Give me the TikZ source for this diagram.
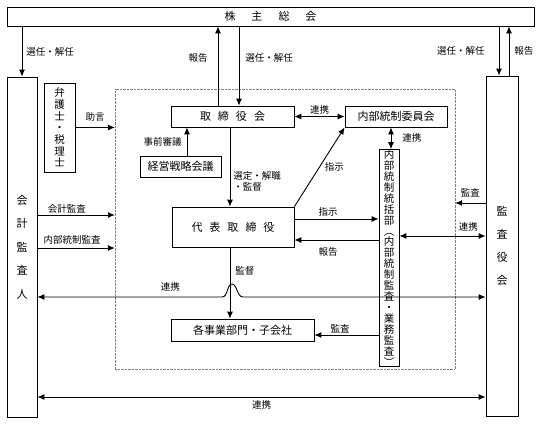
\documentclass[tikz,border=0pt]{standalone}
\usepackage{fontspec}
\setmainfont{Noto Sans CJK JP}
\usetikzlibrary{arrows.meta}

\begin{document}
\begin{tikzpicture}[x=1pt,y=-1pt,
	box/.style={draw, line width=.8pt, inner sep=0pt, font=\fontsize{11}{13}\selectfont},
	tate/.style 2 args={align=center, font=\fontsize{#1}{#2}\selectfont},
	lbl/.style={font=\fontsize{9.5}{11}\selectfont, inner sep=1pt},
	conn/.style={line width=.9pt, -{Latex[length=7pt,width=6pt]}},
	both/.style={line width=.9pt, {Latex[length=7pt,width=6pt]}-{Latex[length=7pt,width=6pt]}}]
	\useasboundingbox (0,0) rectangle (543,423);
	\node [box, minimum width=527, minimum height=19] (soukai) at (270.5,16.5) {株\hspace{16pt}主\hspace{16pt}総\hspace{16pt}会};
	\node [draw, densely dotted, gray, minimum width=340, minimum height=280] (waku) at (285,229) {};
	\node [box, tate={11}{23.5}, minimum width=30, minimum height=340] (kaikei) at (22,247) {会\\計\\監\\査\\人};
	\node [box, tate={11}{23}, minimum width=32, minimum height=340] (kansayaku) at (502,246) {監\\査\\役\\会};
	\node [box, tate={10.5}{11.7}, minimum width=31, minimum height=89] (bengoshi) at (59.5,127.5) {弁\\護\\士\\・\\税\\理\\士};
	\node [box, minimum width=123, minimum height=21] (tori) at (232.5,116.5) {取\hspace{7pt}締\hspace{7pt}役\hspace{7pt}会};
	\node [box, minimum width=102, minimum height=21] (iinkai) at (396,116.5) {内部統制委員会};
	\node [box, minimum width=81, minimum height=21] (keiei) at (180.5,166.5) {経営戦略会議};
	\node [box, minimum width=122, minimum height=40] (daihyo) at (233,227) {代\hspace{7pt}表\hspace{7pt}取\hspace{7pt}締\hspace{7pt}役};
	\node [box, minimum width=143, minimum height=22] (jigyobu) at (242.5,330) {各事業部門・子会社};
	\node [box, tate={10.5}{10.95}, minimum width=20, minimum height=212] (tokatsu) at (389,258) {内\\部\\統\\制\\統\\括\\部\\︵\\内\\部\\統\\制\\監\\査\\・\\業\\務\\監\\査\\︶};

	% 株主総会との間
	\draw [conn] (kaikei.north |- soukai.south) -- (kaikei.north) node [lbl, right=3pt, midway] (l1) {選任・解任};
	\draw [conn] (tori.north -| 218,0) -- (soukai.south -| 218,0) node [lbl, left=9pt, pos=.6] (l2) {報告};
	\draw [conn] (soukai.south -| 239,0) -- (tori.north -| 239,0) node [lbl, right=5pt, pos=.4] (l3) {選任・解任};
	\draw [conn] (soukai.south -| 499,0) -- (kansayaku.north -| 499,0) node [lbl, left=13pt, midway] (l4) {選任・解任};
	\draw [conn] (kansayaku.north -| 509,0) -- (soukai.south -| 509,0) node [lbl, right=4pt, midway] (l5) {報告};

	% 枠の中
	\draw [conn] (bengoshi.east) -- (bengoshi.east -| waku.west) node [lbl, above=5pt, midway] (l6) {助言};
	\draw [both] (tori.east) -- (iinkai.west) node [lbl, above=1pt, midway] (l7) {連携};
	\draw [conn] (keiei.north -| 187,0) -- (tori.south -| 187,0) node [lbl, left=4pt, midway] (l8) {事前審議};
	\draw [conn] (tori.south -| 230,0) -- (daihyo.north -| 230,0) node [lbl, right=2pt, pos=.68, align=left] (l9) {選定・解職\\・監督};
	\draw [conn] (daihyo.north east) -- (iinkai.south west) node [lbl, right=4pt, midway] (l10) {指示};
	\draw [conn] (daihyo.east |- 0,219) -- (tokatsu.west |- 0,219) node [lbl, above=1pt, pos=.4] (l11) {指示};
	\draw [conn] (tokatsu.west |- 0,240) -- (daihyo.east |- 0,240) node [lbl, below=6pt, pos=.6] (l12) {報告};
	\draw [both] (iinkai.south -| 391,0) -- (tokatsu.north -| 391,0) node [lbl, right=10pt, midway] (l13) {連携};
	\draw [conn] (daihyo.south -| 230,0) -- (jigyobu.north -| 230,0) node [lbl, right=4pt, pos=.33] (l14) {監督};
	\draw [conn] (tokatsu.west |- 0,335) -- (jigyobu.east |- 0,335) node [lbl, above=0pt, pos=.6] (l15) {監査};

	% 会計監査人・監査役会
	\draw [conn] (kaikei.east |- 0,215) -- (waku.west |- 0,215) node [lbl, above=0pt, pos=.38] (l16) {会計監査};
	\draw [conn] (kaikei.east |- 0,248) -- (waku.west |- 0,248) node [lbl, above=2pt, pos=.45] (l17) {内部統制監査};
	\draw [conn] (kansayaku.west |- 0,203) -- (waku.east |- 0,203) node [lbl, above=4pt, midway] (l18) {監査};
	\draw [both] (tokatsu.east |- 0,236) -- (kansayaku.west |- 0,236) node [lbl, above=3pt, pos=.8] (l19) {連携};
	\draw [both] (kaikei.east |- 0,297) -- node [lbl, above=4pt, pos=.72] (l20) {連携} (222,297)
		.. controls (228,297) and (227,284) .. (232,284)
		.. controls (237,284) and (237,297) .. (243,297) -- (kansayaku.west |- 0,297);
	\draw [both] (kaikei.east |- 0,397) -- (kansayaku.west |- 0,397) node [lbl, below=2pt, midway] (l21) {連携};
\end{tikzpicture}
\end{document}
